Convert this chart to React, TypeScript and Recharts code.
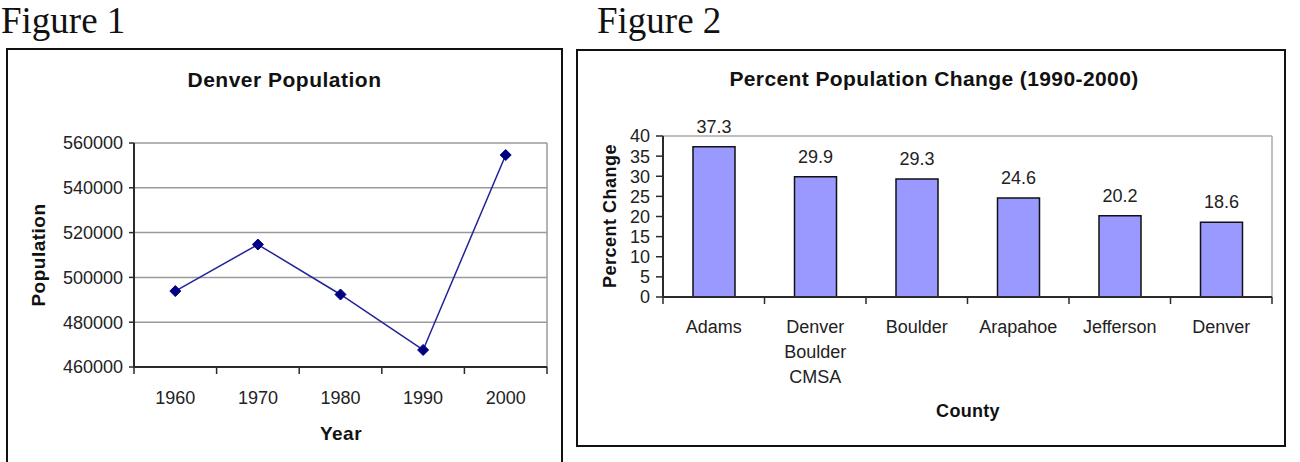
import React from 'react';
import { ComposedChart, Line, BarChart, Bar, XAxis, YAxis, CartesianGrid, LabelList } from 'recharts';

// Figure 1: Denver population by census year
const years = ['1960', '1970', '1980', '1990', '2000'];
const denverPopulation = [493887, 514678, 492365, 467610, 554636];
const populationTicks = [460000, 480000, 500000, 520000, 540000, 560000];

// Figure 2: percent change 1990-2000 by county
const counties = ['Adams', 'Denver Boulder CMSA', 'Boulder', 'Arapahoe', 'Jefferson', 'Denver'];
const percentChange = [37.3, 29.9, 29.3, 24.6, 20.2, 18.6];
const percentTicks = [0, 5, 10, 15, 20, 25, 30, 35, 40];

const SANS = '"Liberation Sans", Arial, sans-serif';
const SERIF = '"Liberation Serif", "Times New Roman", serif';
const AXIS = '#2a2a2a';
const GRID = '#9a9a9a';

// chart 1 geometry
const C1 = { left: 7, top: 49, width: 555, height: 413 };
const C1_MARGIN = { top: 94, right: 15, left: 0, bottom: 0 };
const C1_YW = 127;
const C1_XH = 95;
const C1_PLOT_W = C1.width - C1_YW - C1_MARGIN.right;
const C1_BAND = C1_PLOT_W / years.length;

// chart 2 geometry
const C2 = { left: 577, top: 50, width: 708, height: 396 };
const C2_MARGIN = { top: 86, right: 13, left: 0, bottom: 0 };
const C2_YW = 86;
const C2_XH = 149;
const C2_PLOT_W = C2.width - C2_YW - C2_MARGIN.right;
const C2_BAND = C2_PLOT_W / counties.length;

const populationData = years.map((year, i) => ({ year, population: denverPopulation[i] }));
const changeData = counties.map((county, i) => ({ county, change: percentChange[i] }));

function Diamond({ cx, cy }: any) {
  if (cx == null || cy == null) return null;
  const r = 5.5;
  return (
    <polygon
      points={`${cx},${cy - r} ${cx + r},${cy} ${cx},${cy + r} ${cx - r},${cy}`}
      fill="#000080"
      stroke="#000080"
    />
  );
}

// category tick: label under the band centre, tick marks on the band edges
function makeBandTick(band: number, count: number, lineGap: number, firstBaseline: number) {
  return function BandTick(props: any) {
    const { x, y, payload } = props;
    const index = props.index ?? payload.index;
    const half = band / 2;
    const lines = String(payload.value).split(' ');
    return (
      <g>
        <line x1={x - half} x2={x - half} y1={y} y2={y + 7} stroke={AXIS} strokeWidth={1.5} />
        {index === count - 1 && (
          <line x1={x + half} x2={x + half} y1={y} y2={y + 7} stroke={AXIS} strokeWidth={1.5} />
        )}
        <text x={x} y={y + firstBaseline} textAnchor="middle" fontFamily={SANS} fontSize={18} fill="#222">
          {lines.map((line, i) => (
            <tspan key={i} x={x} dy={i === 0 ? 0 : lineGap}>
              {line}
            </tspan>
          ))}
        </text>
      </g>
    );
  };
}

const YearTick = makeBandTick(C1_BAND, years.length, 25, 37);
const CountyTick = makeBandTick(C2_BAND, counties.length, 25, 36);

export default function App() {
  return (
    <div style={{ position: 'absolute', left: 0, top: 0, width: 1300, height: 462, background: '#fff', overflow: 'hidden' }}>
      <div style={{ position: 'absolute', left: C1.left, top: C1.top }}>
        <ComposedChart width={C1.width} height={C1.height} data={populationData} margin={C1_MARGIN}>
          <CartesianGrid stroke={GRID} strokeWidth={1.5} verticalPoints={[C1_YW + C1_PLOT_W]} />
          <XAxis
            dataKey="year"
            scale="band"
            height={C1_XH}
            interval={0}
            tickSize={0}
            tickMargin={0}
            tickLine={false}
            axisLine={{ stroke: AXIS, strokeWidth: 2 }}
            tick={<YearTick />}
          />
          <YAxis
            domain={[460000, 560000]}
            ticks={populationTicks}
            width={C1_YW}
            interval={0}
            tickSize={5}
            tickMargin={6}
            axisLine={{ stroke: AXIS, strokeWidth: 2 }}
            tickLine={{ stroke: AXIS, strokeWidth: 1.5 }}
            tick={{ fontSize: 18, fill: '#222', fontFamily: SANS }}
          />
          <Line
            dataKey="population"
            stroke="#22229a"
            strokeWidth={1.5}
            dot={<Diamond />}
            activeDot={false}
            isAnimationActive={false}
          />
        </ComposedChart>
      </div>

      <div style={{ position: 'absolute', left: C2.left, top: C2.top }}>
        <BarChart width={C2.width} height={C2.height} data={changeData} margin={C2_MARGIN}>
          <CartesianGrid
            stroke="#aaaaaa"
            strokeWidth={1.5}
            horizontalPoints={[C2_MARGIN.top]}
            verticalPoints={[C2_YW + C2_PLOT_W]}
          />
          <XAxis
            dataKey="county"
            height={C2_XH}
            interval={0}
            tickSize={0}
            tickMargin={0}
            tickLine={false}
            axisLine={{ stroke: AXIS, strokeWidth: 2 }}
            tick={<CountyTick />}
          />
          <YAxis
            domain={[0, 40]}
            ticks={percentTicks}
            width={C2_YW}
            interval={0}
            tickSize={7}
            tickMargin={6}
            axisLine={{ stroke: AXIS, strokeWidth: 2 }}
            tickLine={{ stroke: AXIS, strokeWidth: 1.5 }}
            tick={{ fontSize: 18, fill: '#222', fontFamily: SANS }}
          />
          <Bar dataKey="change" fill="#9999ff" stroke="#111" strokeWidth={1.5} barSize={42} isAnimationActive={false}>
            <LabelList dataKey="change" position="top" offset={14} fontSize={18} fill="#222" fontFamily={SANS} />
          </Bar>
        </BarChart>
      </div>

      <svg width={1300} height={462} style={{ position: 'absolute', left: 0, top: 0, pointerEvents: 'none' }}>
        <text x={1} y={33} fontFamily={SERIF} fontSize={37} fill="#111">Figure 1</text>
        <text x={597} y={33} fontFamily={SERIF} fontSize={37} fill="#111">Figure 2</text>

        <rect x={7} y={49} width={555} height={440} fill="none" stroke="#111" strokeWidth={2} />
        <rect x={577} y={50} width={708} height={396} fill="none" stroke="#111" strokeWidth={2} />

        <g fontFamily={SANS} fontWeight="bold" fill="#111">
          <text x={284.5} y={87} fontSize={21} letterSpacing={0.5} textAnchor="middle">Denver Population</text>
          <text x={341} y={440} fontSize={19} letterSpacing={0.5} textAnchor="middle">Year</text>
          <text x={45} y={255} fontSize={19} letterSpacing={0.5} textAnchor="middle" transform="rotate(-90 45 255)">Population</text>

          <text x={934} y={86} fontSize={21} letterSpacing={0.4} textAnchor="middle">Percent Population Change (1990-2000)</text>
          <text x={968} y={416.5} fontSize={18} letterSpacing={0.3} textAnchor="middle">County</text>
          <text x={616} y={216} fontSize={18} letterSpacing={0.5} textAnchor="middle" transform="rotate(-90 616 216)">Percent Change</text>
        </g>
      </svg>
    </div>
  );
}
